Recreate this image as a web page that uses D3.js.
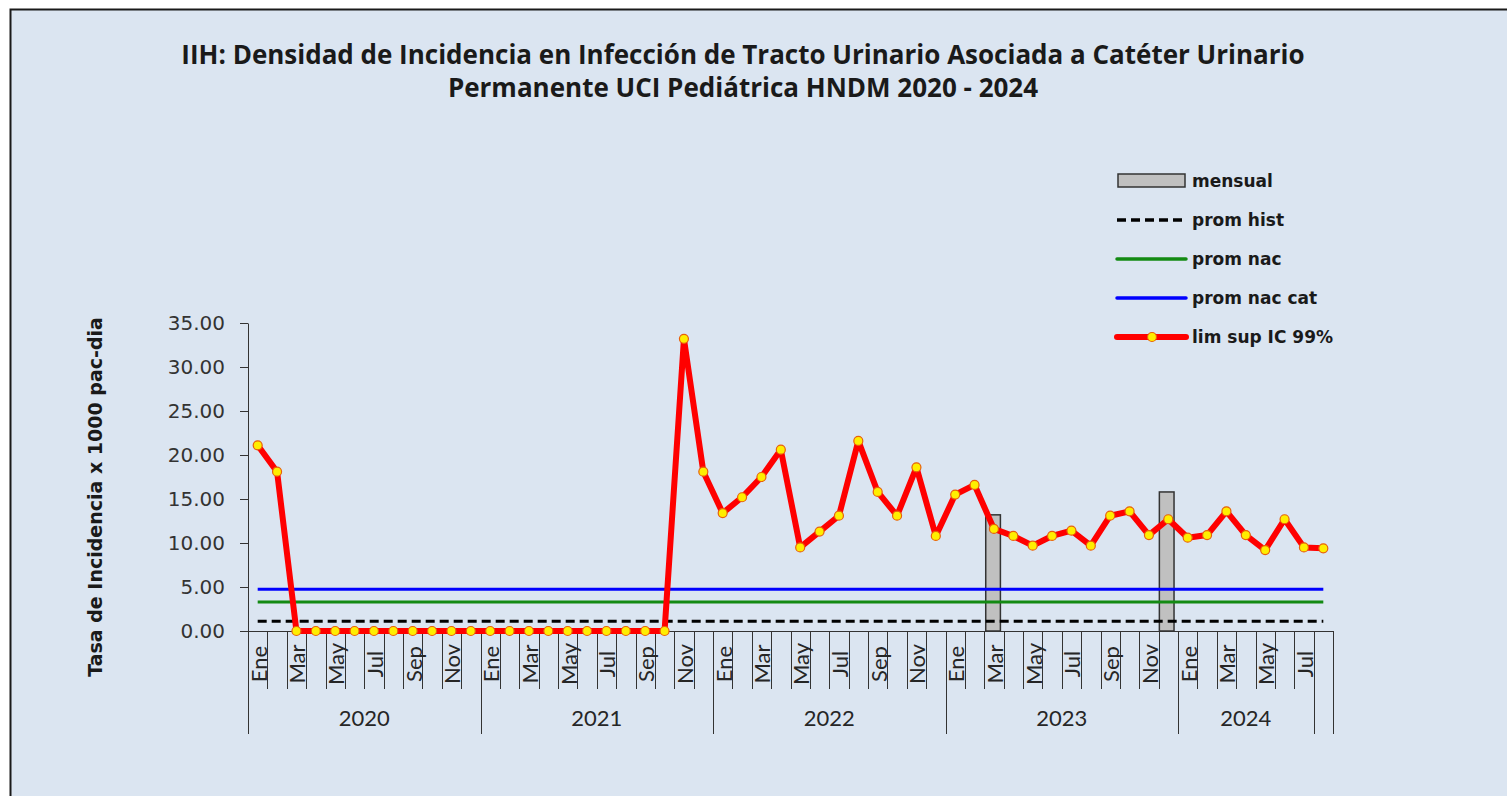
<!DOCTYPE html>
<html>
<head>
<meta charset="utf-8">
<script src="https://cdn.jsdelivr.net/npm/d3@7"></script>
<style>
    body { margin: 0; background: #ffffff; }
</style>
</head>
<body>
<div id="canva"></div>
<script>
// datos
const monthNames = ["Ene", "Feb", "Mar", "Abr", "May", "Jun", "Jul", "Ago", "Sep", "Oct", "Nov", "Dic"];
const years = ["2020", "2021", "2022", "2023", "2024"];
const monthsPerYear = [12, 12, 12, 12, 7];

const limSup = [
    21.1, 18.1, 0, 0, 0, 0, 0, 0, 0, 0, 0, 0,
    0, 0, 0, 0, 0, 0, 0, 0, 0, 0, 33.2, 18.1,
    13.4, 15.2, 17.5, 20.6, 9.5, 11.3, 13.1, 21.6, 15.8, 13.1, 18.6, 10.8,
    15.5, 16.6, 11.6, 10.8, 9.7, 10.8, 11.4, 9.7, 13.1, 13.6, 10.9, 12.7,
    10.6, 10.9, 13.6, 10.9, 9.2, 12.7, 9.5,
    9.4
];

const mensual = [
    0, 0, 0, 0, 0, 0, 0, 0, 0, 0, 0, 0,
    0, 0, 0, 0, 0, 0, 0, 0, 0, 0, 0, 0,
    0, 0, 0, 0, 0, 0, 0, 0, 0, 0, 0, 0,
    0, 0, 13.2, 0, 0, 0, 0, 0, 0, 0, 0, 15.8,
    0, 0, 0, 0, 0, 0, 0,
    0
];

const promHist = 1.1;
const promNac = 3.3;
const promNacCat = 4.75;

const yTicks = [0, 5, 10, 15, 20, 25, 30, 35];

const legendLabels = ["mensual", "prom hist", "prom nac", "prom nac cat", "lim sup IC 99%"];

// categorias: mes + año, y una ultima sin etiqueta
const categories = [];
years.forEach((yr, k) => {
    for (let m = 0; m < monthsPerYear[k]; m++) {
        categories.push({ year: yr, month: monthNames[m] });
    }
});
categories.push({ year: "", month: "" });

const width = 1507;
const height = 796;

const svg = d3.select("#canva").append("svg")
    .attr("width", width)
    .attr("height", height);

// fondo y borde
svg.append("rect")
    .attr("x", 10).attr("y", 9)
    .attr("width", width - 10).attr("height", height - 9)
    .attr("fill", "#dbe5f1");

svg.append("path")
    .attr("d", `M10.5,${height} V9.5 H${width}`)
    .attr("fill", "none")
    .attr("stroke", "#1a1a1a")
    .attr("stroke-width", 2);

// titulo
const title = svg.append("text")
    .attr("text-anchor", "middle")
    .style("font-family", "'Open Sans', sans-serif")
    .style("font-weight", "bold")
    .style("font-size", "26px")
    .attr("fill", "#1a1a1a");
title.append("tspan").attr("x", 743).attr("y", 64)
    .text("IIH: Densidad de Incidencia en  Infección de Tracto Urinario Asociada a Catéter Urinario");
title.append("tspan").attr("x", 743).attr("y", 97)
    .text("Permanente UCI Pediátrica HNDM 2020 - 2024");

const x = d3.scaleBand()
    .domain(d3.range(categories.length))
    .range([248, 1333]);

const xBar = d3.scaleBand()
    .domain(d3.range(categories.length))
    .range([248, 1333])
    .padding(0.24);

const y = d3.scaleLinear()
    .domain([0, 35])
    .range([631, 323]);

const cx = i => x(i) + x.bandwidth() / 2;

// barras mensual
svg.append("g")
    .selectAll("rect")
    .data(mensual.map((v, i) => ({ v, i })).filter(d => d.v > 0))
    .join("rect")
        .attr("x", d => xBar(d.i))
        .attr("y", d => y(d.v))
        .attr("width", xBar.bandwidth())
        .attr("height", d => y(0) - y(d.v))
        .attr("fill", "#c0c0c0")
        .attr("stroke", "#333")
        .attr("stroke-width", 1.5);

// lineas de referencia
function refLine(value, color, dash) {
    svg.append("line")
        .attr("x1", cx(0))
        .attr("x2", cx(categories.length - 1))
        .attr("y1", y(value))
        .attr("y2", y(value))
        .attr("stroke", color)
        .attr("stroke-width", 3)
        .attr("stroke-dasharray", dash);
}
refLine(promHist, "#000000", "9,5");
refLine(promNac, "#138a13", null);
refLine(promNacCat, "#0000ff", null);

// ejes
function yAxis(g) {
    g.attr("transform", "translate(248, 0)")
        .call(d3.axisLeft(y).tickValues(yTicks).tickFormat(d3.format(".2f"))
            .tickSize(8).tickSizeOuter(0).tickPadding(15));
    g.selectAll("path, line").attr("stroke", "#333");
    g.selectAll("text")
        .attr("fill", "#333")
        .style("font-family", "'DejaVu Sans', sans-serif")
        .style("font-size", "20px");
}

function xAxis(g) {
    g.attr("transform", "translate(0, 631)")
        .call(d3.axisBottom(x).tickSize(0).tickSizeOuter(0).tickFormat(""));
    g.select(".domain").attr("stroke", "#333");
}

svg.append("g").call(yAxis);
svg.append("g").call(xAxis);

// separadores de meses y años
const yearStarts = [0];
monthsPerYear.forEach(n => yearStarts.push(yearStarts[yearStarts.length - 1] + n));
yearStarts.push(categories.length);

const sep = svg.append("g").attr("stroke", "#333").attr("stroke-width", 1);
d3.range(categories.length + 1).forEach(i => {
    const xp = i < categories.length ? x(i) : x(i - 1) + x.bandwidth();
    const long = yearStarts.includes(i);
    sep.append("line")
        .attr("x1", Math.round(xp) + 0.5).attr("x2", Math.round(xp) + 0.5)
        .attr("y1", 631).attr("y2", long ? 734 : 689);
});

// etiquetas de meses (una si, una no)
svg.append("g")
    .selectAll("text")
    .data(categories.map((c, i) => ({ c, i })).filter(d => d.i % 2 === 0))
    .join("text")
        .attr("transform", d => `translate(${cx(d.i) + 1}, 664) rotate(-90)`)
        .attr("text-anchor", "middle")
        .attr("dy", "0.36em")
        .attr("fill", "#262626")
        .style("font-family", "Lato, sans-serif")
        .style("font-size", "22px")
        .text(d => d.c.month);

// etiquetas de años
svg.append("g")
    .selectAll("text")
    .data(years)
    .join("text")
        .attr("x", (d, k) => (x(yearStarts[k]) + x(yearStarts[k + 1] - 1) + x.bandwidth()) / 2)
        .attr("y", 726)
        .attr("text-anchor", "middle")
        .attr("fill", "#262626")
        .style("font-family", "Lato, sans-serif")
        .style("font-size", "22px")
        .text(d => d);

// titulo eje y
svg.append("text")
    .attr("transform", "translate(102, 497) rotate(-90)")
    .attr("text-anchor", "middle")
    .attr("fill", "#1a1a1a")
    .style("font-family", "'DejaVu Sans', sans-serif")
    .style("font-weight", "bold")
    .style("font-size", "19px")
    .text("Tasa de Incidencia x 1000 pac-dia");

// linea lim sup IC 99%
const line = d3.line()
    .x((d, i) => cx(i))
    .y(d => y(d));

svg.append("path")
    .datum(limSup)
    .attr("d", line)
    .attr("fill", "none")
    .attr("stroke", "#ff0000")
    .attr("stroke-width", 6)
    .attr("stroke-linejoin", "round");

svg.append("g")
    .selectAll("circle")
    .data(limSup)
    .join("circle")
        .attr("cx", (d, i) => cx(i))
        .attr("cy", d => y(d))
        .attr("r", 4.5)
        .attr("fill", "#ffee00")
        .attr("stroke", "#e8600a")
        .attr("stroke-width", 1.2);

// leyenda
const legend = svg.append("g").attr("transform", "translate(1117, 181)");
const rowH = 39;

legend.append("rect")
    .attr("x", 1).attr("y", -7)
    .attr("width", 67).attr("height", 13)
    .attr("fill", "#c0c0c0")
    .attr("stroke", "#333")
    .attr("stroke-width", 1.5);

const legendLines = [
    { color: "#000000", dash: "9,5", w: 3.5 },
    { color: "#138a13", dash: null, w: 3.5 },
    { color: "#0000ff", dash: null, w: 3.5 },
    { color: "#ff0000", dash: null, w: 6 }
];
legendLines.forEach((l, k) => {
    legend.append("line")
        .attr("x1", 0).attr("x2", 69)
        .attr("y1", (k + 1) * rowH).attr("y2", (k + 1) * rowH)
        .attr("stroke", l.color)
        .attr("stroke-width", l.w)
        .attr("stroke-dasharray", l.dash)
        .attr("stroke-linecap", l.dash ? "butt" : "round");
});
legend.append("circle")
    .attr("cx", 35).attr("cy", 4 * rowH)
    .attr("r", 4.5)
    .attr("fill", "#ffee00")
    .attr("stroke", "#e8600a")
    .attr("stroke-width", 1.2);

legend.selectAll("text.lbl")
    .data(legendLabels)
    .join("text")
        .attr("class", "lbl")
        .attr("x", 75)
        .attr("y", (d, k) => k * rowH)
        .attr("dy", "0.36em")
        .attr("fill", "#1a1a1a")
        .style("font-family", "'DejaVu Sans', sans-serif")
        .style("font-weight", "bold")
        .style("font-size", "17px")
        .text(d => d);
</script>
</body>
</html>
